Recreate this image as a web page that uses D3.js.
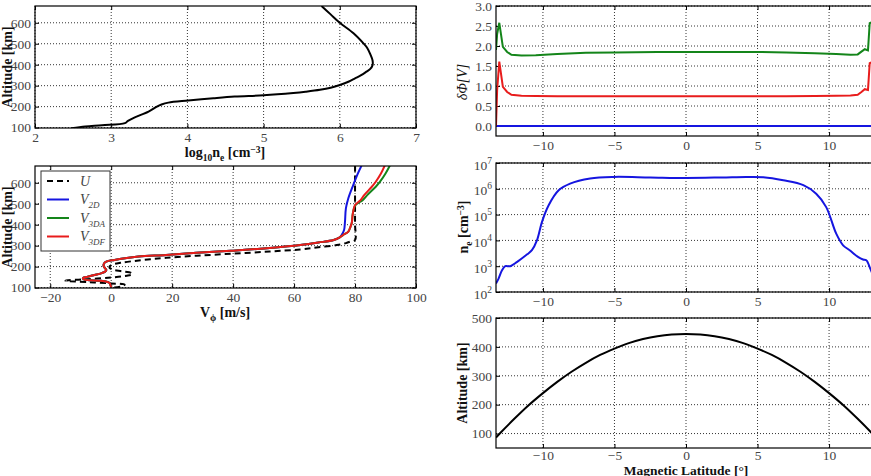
<!DOCTYPE html>
<html>
<head>
<meta charset="utf-8">
<script src="https://cdn.jsdelivr.net/npm/d3@7"></script>
<style>
  body { margin: 0; background: #fff; }
  svg text { font-family: "Liberation Serif", "DejaVu Serif", serif; }
</style>
</head>
<body>
<div id="fig"></div>
<script>
// ---- data ----
// electron density profile (top left)
var neAlt = [97,105,111,121,132,149,176,200,210,219,229,240,248,254,265,271,280,290,303,320,335,350,367,380,398,420,450,480,502,550,600,640,680]
var neLog = [2.48,2.66,2.88,3.18,3.22,3.31,3.49,3.60,3.66,3.75,4.01,4.34,4.62,5.0,5.39,5.55,5.74,5.88,6.0,6.12,6.2,6.28,6.35,6.40,6.43,6.43,6.40,6.36,6.31,6.18,6.0,5.88,5.76]

// zonal velocities (bottom left)
var velAlt = [100,110,121,128,133,138,145,152,160,168,176,184,192,200,208,216,224,232,240,248,256,266,276,290,303,315,327,340,351,367,390,407,430,446,470,494,517,541,581,605,644,684]
var v3df = [0,-0.2,-0.5,-1.5,-4,-8.8,-9.3,-7.7,-5.5,-3.3,-2,-1.6,-2,-2.4,-2.5,-2.3,-1.6,1.1,4.5,9,18,28,40,53,62,68,73,75,76.1,77.8,78.5,78.9,79.1,79.2,79.5,80,81.8,83,85.5,86.8,88.5,89.8]
var v3da = [0,-0.2,-0.5,-1.5,-4,-8.8,-9.3,-7.7,-5.5,-3.3,-2,-1.6,-2,-2.4,-2.5,-2.3,-1.6,1.1,4.5,9,18,28,40,53,62,68,73,75,76.1,77.8,78.5,78.9,79.1,79.2,79.5,80.2,82.5,84,86.8,88.2,90,91.5]
var v2dAlt = [100,110,121,128,133,138,145,152,160,168,176,184,192,200,208,216,224,232,240,248,256,266,276,290,303,315,327,340,351,375,414,478,526,589,640,684]
var v2d = [0,-0.2,-0.5,-1.5,-4,-8.8,-9.3,-7.7,-5.5,-3.3,-2,-1.6,-2,-2.4,-2.5,-2.3,-1.6,1.1,4.5,9,18,28,40,53,62,68,73,75,75.6,76.4,76.7,77,77.8,79.4,80.8,82.2]
var uAlt = [100,108,114,120,126,133,140,148,156,164,170,178,186,194,202,210,218,226,234,242,252,262,272,282,292,303,312,319,327,400,500,600,684]
var uWind = [1,4,4.4,0,-7,-15,-8,0,5,7,6.6,3.5,0.5,-0.5,-0.5,0.5,3,7,12,18,28,40,52,62,68,74,77,78.3,80,80,80,80,80]

// potential drop along field line (right top)
var dphiLat = [-13.28,-13.2,-13.05,-12.8,-12.5,-12.2,-11.5,-10.5,-9,-7,-5,-2,0,2,5,7,9,10.5,11.5,12.0,12.26,12.5,12.72,12.84,13.05,13.2,13.28]
var dphi3da = [1.9,2.3,2.58,1.98,1.85,1.78,1.76,1.77,1.80,1.83,1.84,1.85,1.85,1.85,1.85,1.84,1.82,1.80,1.78,1.79,1.86,1.92,1.89,2.57,2.6,2.2,1.9]
var dphi3df = [0.0,0.9,1.61,0.98,0.85,0.78,0.755,0.75,0.745,0.745,0.745,0.745,0.745,0.745,0.745,0.745,0.75,0.755,0.76,0.78,0.85,0.92,0.9,1.57,1.6,0.9,0.0]
var dphi2d = [0,0,0,0,0,0,0,0,0,0,0,0,0,0,0,0,0,0,0,0,0,0,0,0,0,0,0]

// density along field line, log10 (right middle)
var lineLat = [-13.28,-13.1,-12.86,-12.63,-12.28,-11.8,-11.1,-10.77,-10.42,-10.07,-9.6,-8.9,-8.1,-6.7,-5.07,-2.5,0,2.5,4.2,5.4,6.8,8.2,9.1,9.8,10.5,10.98,11.44,12.02,12.37,12.6,12.88,13.1,13.28]
var lineNeLog = [2.33,2.52,2.84,3.0,3.0,3.17,3.46,3.62,4.0,4.71,5.36,5.94,6.2,6.4,6.46,6.44,6.42,6.44,6.46,6.45,6.33,6.14,5.81,5.29,4.26,3.81,3.62,3.36,3.26,3.23,2.91,2.6,2.33]

// field line altitude (right bottom)
var fieldLat = [-13.28,-13,-12,-11,-10,-9,-8,-7,-6,-5,-4,-3,-2,-1,0,1,2,3,4,5,6,7,8,9,10,11,12,13,13.28]
var fieldAlt = [86,101,151,198,240,279,314,345,372,394,413,427,437,443,445,443,437,427,413,394,372,345,314,279,240,198,151,101,86]

var altTicks = [100,200,300,400,500,600]
var latTicks = [-10,-5,0,5,10]

// ---- figure ----
var svg = d3.select('#fig').append('svg')
  .attr('width', 871)
  .attr('height', 476)

var clipId = 0

function panel(box, x, y, xt, yt, xfmt, yfmt){
  var g = svg.append('g').attr('transform', 'translate(' + box.l + ',' + box.t + ')')

  // dotted grid
  g.selectAll('.gx').data(xt).join('line')
    .attr('x1', d => x(d)).attr('x2', d => x(d))
    .attr('y1', 0).attr('y2', box.h)
    .attr('stroke', '#000').attr('stroke-width', 0.8)
    .attr('stroke-dasharray', '1,2')
  g.selectAll('.gy').data(yt).join('line')
    .attr('y1', d => y(d)).attr('y2', d => y(d))
    .attr('x1', 0).attr('x2', box.w)
    .attr('stroke', '#000').attr('stroke-width', 0.8)
    .attr('stroke-dasharray', '1,2')

  // inward ticks on all four sides
  var bottom = g.append('g').attr('transform', 'translate(0,' + box.h + ')')
    .call(d3.axisBottom(x).tickValues(xt).tickSize(-4).tickPadding(4).tickFormat(xfmt))
  g.append('g')
    .call(d3.axisTop(x).tickValues(xt).tickSize(-4).tickFormat(''))
  var left = g.append('g')
    .call(d3.axisLeft(y).tickValues(yt).tickSize(-4).tickPadding(4).tickFormat(yfmt))
  g.append('g').attr('transform', 'translate(' + box.w + ',0)')
    .call(d3.axisRight(y).tickValues(yt).tickSize(-4).tickFormat(''))
  g.selectAll('.domain').remove()
  g.selectAll('.tick line').attr('stroke', '#000')
  g.selectAll('.tick text')
    .attr('font-family', '"Liberation Serif", serif')
    .attr('font-size', 13.5)
    .attr('fill', '#444')

  clipId++
  g.append('clipPath').attr('id', 'clip' + clipId)
    .append('rect').attr('width', box.w).attr('height', box.h)
  var plot = g.append('g').attr('clip-path', 'url(#clip' + clipId + ')')

  g.append('rect')
    .attr('width', box.w).attr('height', box.h)
    .attr('fill', 'none').attr('stroke', '#000').attr('stroke-width', 1.2)

  return {g: g, plot: plot, left: left, bottom: bottom}
}

// text with sub/superscripts: parts = [[text, 'sub'|'sup'|'']]
function rich(t, parts, small){
  var shift = 0
  parts.forEach(function(p){
    var want = p[1] == 'sub' ? 4 : (p[1] == 'sup' ? -4 : 0)
    t.append('tspan')
      .attr('dy', want - shift)
      .attr('font-size', p[1] ? small : null)
      .text(p[0])
    shift = want
  })
}

function addLine(plot, xs, ys, fx, fy, color, dash, curve){
  var pts = xs.map((d, i) => [d, ys[i]])
  plot.append('path')
    .datum(pts)
    .attr('d', d3.line().x(d => fx(d[0])).y(d => fy(d[1])).curve(curve || d3.curveCatmullRom))
    .attr('fill', 'none')
    .attr('stroke', color)
    .attr('stroke-width', 2)
    .attr('stroke-dasharray', dash || null)
}

var blue = '#1515e0', green = '#14851a', red = '#e81c1c'

// ---- top left: log10 ne vs altitude ----
var b1 = {l: 35, t: 6, w: 381, h: 122}
var x1 = d3.scaleLinear().domain([2, 7]).range([0, b1.w])
var y1 = d3.scaleLinear().domain([98, 680]).range([b1.h, 0])
var p1 = panel(b1, x1, y1, [2,3,4,5,6,7], altTicks, d3.format('d'), d3.format('d'))
addLine(p1.plot, neLog, neAlt, x1, y1, '#000')

var lab1 = svg.append('text').attr('x', 225).attr('y', 157)
  .attr('text-anchor', 'middle').attr('font-weight', 'bold').attr('font-size', 14).attr('fill', '#111')
rich(lab1, [['log',''],['10','sub'],['n',''],['e','sub'],[' [cm',''],['−3','sup'],[']','']], 9.5)

svg.append('text').attr('transform', 'translate(12,67) rotate(-90)')
  .attr('text-anchor', 'middle').attr('font-weight', 'bold').attr('font-size', 14).attr('fill', '#111')
  .text('Altitude [km]')

// ---- bottom left: velocities ----
var b2 = {l: 35, t: 166, w: 381, h: 122}
var x2 = d3.scaleLinear().domain([-25, 100]).range([0, b2.w])
var y2 = d3.scaleLinear().domain([98, 680]).range([b2.h, 0])
var p2 = panel(b2, x2, y2, [-20,0,20,40,60,80,100], altTicks, d3.format('d'), d3.format('d'))
addLine(p2.plot, uWind, uAlt, x2, y2, '#000', '6,4')
addLine(p2.plot, v2d, v2dAlt, x2, y2, blue)
addLine(p2.plot, v3da, velAlt, x2, y2, green)
addLine(p2.plot, v3df, velAlt, x2, y2, red)

var lab2 = svg.append('text').attr('x', 225).attr('y', 317)
  .attr('text-anchor', 'middle').attr('font-weight', 'bold').attr('font-size', 14).attr('fill', '#111')
rich(lab2, [['V',''],['ϕ','sub'],[' [m/s]','']], 10)

svg.append('text').attr('transform', 'translate(12,227) rotate(-90)')
  .attr('text-anchor', 'middle').attr('font-weight', 'bold').attr('font-size', 14).attr('fill', '#111')
  .text('Altitude [km]')

// legend
var legend = [
  {name: 'U', sub: '', color: '#000', dash: '6,4'},
  {name: 'V', sub: '2D', color: blue},
  {name: 'V', sub: '3DA', color: green},
  {name: 'V', sub: '3DF', color: red}
]
var lg = svg.append('g').attr('transform', 'translate(41,171)')
lg.append('rect').attr('width', 69).attr('height', 80)
  .attr('fill', '#fff').attr('stroke', '#333').attr('stroke-width', 1)
legend.forEach(function(e, i){
  var yy = 10 + i * 18.5
  lg.append('line').attr('x1', 6).attr('x2', 28).attr('y1', yy).attr('y2', yy)
    .attr('stroke', e.color).attr('stroke-width', 2).attr('stroke-dasharray', e.dash || null)
  var t = lg.append('text').attr('x', 39).attr('y', yy + 4.5)
    .attr('font-style', 'italic').attr('font-size', 14).attr('fill', '#444')
  rich(t, [[e.name, ''], [e.sub, 'sub']], 9)
})

// ---- right top: delta phi ----
var b3 = {l: 496, t: 6, w: 380, h: 130}
var x3 = d3.scaleLinear().domain([-13.28, 13.28]).range([0, b3.w])
var y3 = d3.scaleLinear().domain([-0.25, 3.0]).range([b3.h, 0])
var p3 = panel(b3, x3, y3, latTicks, [0,0.5,1,1.5,2,2.5,3], d3.format('d'), d3.format('.1f'))
addLine(p3.plot, dphiLat, dphi2d, x3, y3, blue, null, d3.curveLinear)
addLine(p3.plot, dphiLat, dphi3da, x3, y3, green, null, d3.curveLinear)
addLine(p3.plot, dphiLat, dphi3df, x3, y3, red, null, d3.curveLinear)

svg.append('text').attr('transform', 'translate(467,82) rotate(-90)')
  .attr('text-anchor', 'middle').attr('font-style', 'italic').attr('font-size', 14).attr('fill', '#111')
  .text('δΦ[V]')

// ---- right middle: ne along field line ----
var b4 = {l: 496, t: 163, w: 380, h: 129}
var x4 = d3.scaleLinear().domain([-13.28, 13.28]).range([0, b4.w])
var y4 = d3.scaleLog().domain([1e2, 1e7]).range([b4.h, 0])
var p4 = panel(b4, x4, y4, latTicks, [1e2,1e3,1e4,1e5,1e6,1e7], d3.format('d'), () => '')
p4.left.selectAll('.tick text').each(function(d){
  var t = d3.select(this).attr('dy', '0.45em')
  t.append('tspan').text('10')
  t.append('tspan').attr('dy', -6).attr('font-size', 9.5).text(Math.round(Math.log10(d)))
})
addLine(p4.plot, lineLat, lineNeLog.map(v => Math.pow(10, v)), x4, y4, blue)

var lab4 = svg.append('text').attr('transform', 'translate(468,227) rotate(-90)')
  .attr('text-anchor', 'middle').attr('font-weight', 'bold').attr('font-size', 14).attr('fill', '#111')
rich(lab4, [['n',''],['e','sub'],[' [cm',''],['−3','sup'],[']','']], 9.5)

// ---- right bottom: field line altitude ----
var b5 = {l: 496, t: 318, w: 380, h: 130}
var x5 = d3.scaleLinear().domain([-13.28, 13.28]).range([0, b5.w])
var y5 = d3.scaleLinear().domain([50, 500]).range([b5.h, 0])
var p5 = panel(b5, x5, y5, latTicks, [100,200,300,400,500], d3.format('d'), d3.format('d'))
p5.bottom.selectAll('.tick text').attr('y', 2.5)
addLine(p5.plot, fieldLat, fieldAlt, x5, y5, '#000')

svg.append('text').attr('transform', 'translate(467,383) rotate(-90)')
  .attr('text-anchor', 'middle').attr('font-weight', 'bold').attr('font-size', 14).attr('fill', '#111')
  .text('Altitude [km]')
svg.append('text').attr('x', 686).attr('y', 475)
  .attr('text-anchor', 'middle').attr('font-weight', 'bold').attr('font-size', 13.5).attr('fill', '#111')
  .text('Magnetic Latitude [°]')
</script>
</body>
</html>
